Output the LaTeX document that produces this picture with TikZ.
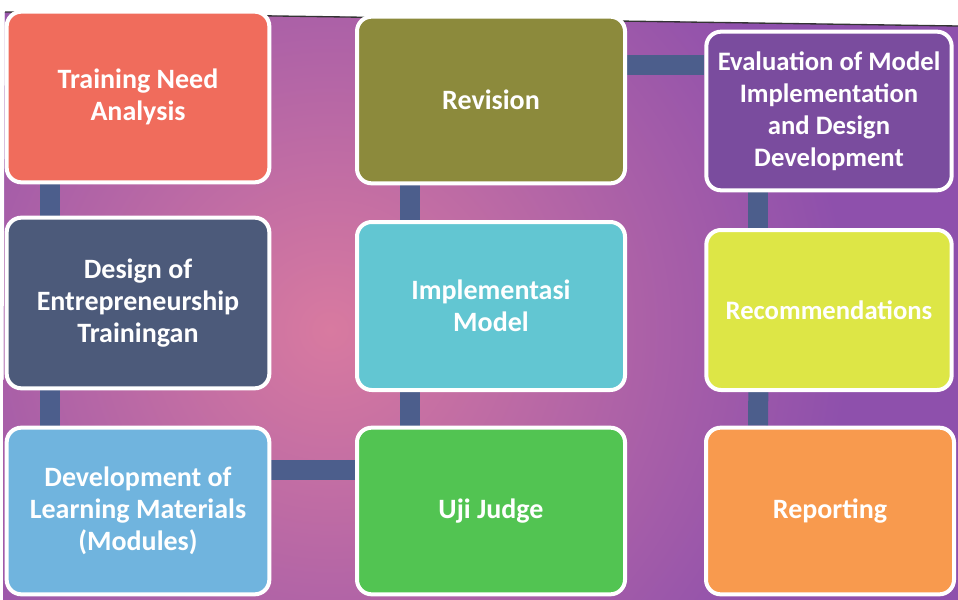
\documentclass[tikz,border=0pt]{standalone}
\usepackage{fontspec}
\setmainfont{Carlito}
\usetikzlibrary{backgrounds, calc}

\definecolor{slidepurple}{HTML}{8E50AC}
\definecolor{slidepink}{HTML}{D87AA0}
\definecolor{barblue}{HTML}{4C5E8C}
\definecolor{tnared}{HTML}{F06C5C}
\definecolor{revolive}{HTML}{8C8A3C}
\definecolor{evalpurple}{HTML}{7A4C9E}
\definecolor{designslate}{HTML}{4C5A7A}
\definecolor{implcyan}{HTML}{62C6D2}
\definecolor{recyellow}{HTML}{DDE646}
\definecolor{devblue}{HTML}{70B4DE}
\definecolor{ujigreen}{HTML}{52C452}
\definecolor{reporange}{HTML}{F89A4E}

\begin{document}
\begin{tikzpicture}[x=0.75pt, y=-0.75pt,
  stage/.style={draw=white, line width=3pt, rounded corners=11pt, text=white,
    font=\fontsize{21}{24}\selectfont\bfseries, align=center, inner sep=0pt},
  small/.style={font=\fontsize{20}{24}\selectfont\bfseries},
  bar/.style={draw=barblue, line width=15pt}]
\useasboundingbox (0,0) rectangle (958,600);

% first row
\node[stage, fill=tnared, minimum width=197pt, minimum height=128pt] (tna) at (138,97) {Training Need\\Analysis};
\node[stage, fill=revolive, minimum width=201pt, minimum height=125pt] (revision) at (491,100) {Revision};
\node[stage, small, fill=evalpurple, minimum width=184pt, minimum height=119pt] (evaluation) at (829,111) {Evaluation of Model\\Implementation\\and Design\\Development};

% second row
\node[stage, fill=designslate, minimum width=197pt, minimum height=128pt] (design) at (138,303) {Design of\\Entrepreneurship\\Trainingan};
\node[stage, fill=implcyan, minimum width=201pt, minimum height=126pt] (implement) at (491,306) {Implementasi\\Model};
\node[stage, small, fill=recyellow, minimum width=184pt, minimum height=120pt] (recommend) at (829,310) {Recommendations};

% third row
\node[stage, fill=devblue, minimum width=197pt, minimum height=125pt] (develop) at (138,511) {Development of\\Learning Materials\\(Modules)};
\node[stage, fill=ujigreen, minimum width=201pt, minimum height=125pt] (uji) at (491,511) {Uji Judge};
\node[stage, fill=reporange, minimum width=186pt, minimum height=125pt] (report) at (830,511) {Reporting};

\begin{scope}[on background layer]
  \fill[white] (0,0) rectangle (958,600);
  \fill[slidepurple] (5,12) -- (958,26) -- (958,600) -- (3,600) -- cycle;
  \begin{scope}
    \clip (5,12) -- (958,26) -- (958,600) -- (3,600) -- cycle;
    \shade[inner color=slidepink, outer color=slidepurple] (330,330) circle (520);
  \end{scope}
  \draw[black!80, line width=1pt] (5,12) -- (958,26);

  % bars joining the stages
  \draw[bar] ($(tna.south west)+(45,0)$) -- ($(design.north west)+(45,0)$);
  \draw[bar] ($(design.south west)+(45,0)$) -- ($(develop.north west)+(45,0)$);
  \draw[bar] ($(develop.east)+(0,-41)$) -- ($(uji.west)+(0,-41)$);
  \draw[bar] ($(uji.north west)+(55,0)$) -- ($(implement.south west)+(55,0)$);
  \draw[bar] ($(implement.north west)+(55,0)$) -- ($(revision.south west)+(55,0)$);
  \draw[bar] ($(revision.east)+(0,-35)$) -- ($(evaluation.west)+(0,-46)$);
  \draw[bar] ($(evaluation.south west)+(54,0)$) -- ($(recommend.north west)+(54,0)$);
  \draw[bar] ($(recommend.south west)+(54,0)$) -- ($(report.north west)+(54,0)$);
\end{scope}
\end{tikzpicture}
\end{document}
